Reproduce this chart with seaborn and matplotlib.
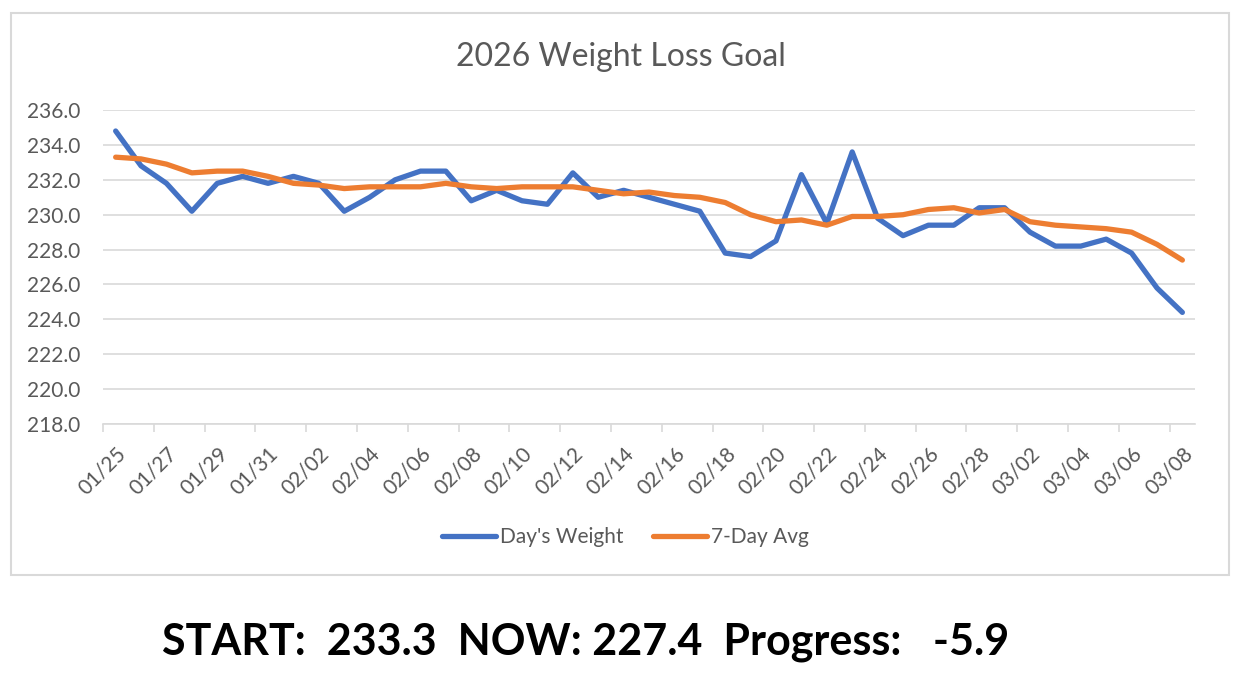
import pandas as pd
import numpy as np
import matplotlib
matplotlib.use("Agg")
import matplotlib.pyplot as plt
from matplotlib.patches import Rectangle
import seaborn as sns

# data (01/25 .. 03/08, 2026)
dates = pd.date_range("2026-01-25", "2026-03-08", freq="D")
days_weight = [234.8, 232.8, 231.8, 230.2, 231.8, 232.2, 231.8, 232.2, 231.8, 230.2,
               231.0, 232.0, 232.5, 232.5, 230.8, 231.4, 230.8, 230.6, 232.4, 231.0,
               231.4, 231.0, 230.6, 230.2, 227.8, 227.6, 228.5, 232.3, 229.5, 233.6,
               229.8, 228.8, 229.4, 229.4, 230.4, 230.4, 229.0, 228.2, 228.2, 228.6,
               227.8, 225.8, 224.4]
avg_7day = [233.3, 233.2, 232.9, 232.4, 232.5, 232.5, 232.2, 231.8, 231.7, 231.5,
            231.6, 231.6, 231.6, 231.8, 231.6, 231.5, 231.6, 231.6, 231.6, 231.4,
            231.2, 231.3, 231.1, 231.0, 230.7, 230.0, 229.6, 229.7, 229.4, 229.9,
            229.9, 230.0, 230.3, 230.4, 230.1, 230.3, 229.6, 229.4, 229.3, 229.2,
            229.0, 228.3, 227.4]
series_names = ["Day's Weight", "7-Day Avg"]
colors = ["#4472C4", "#ED7D31"]

start_val = avg_7day[0]
now_val = avg_7day[-1]
progress = round(now_val - start_val, 1)

df = pd.DataFrame({"date": dates, series_names[0]: days_weight, series_names[1]: avg_7day})
long = df.melt(id_vars="date", var_name="series", value_name="weight")

sns.set_theme(style="white")
plt.rcParams["font.family"] = ["Lato", "DejaVu Sans"]

fig = plt.figure(figsize=(12.51, 6.88), dpi=100)
ax = fig.add_axes([0.0823, 0.3837, 0.8730, 0.4563])

sns.lineplot(data=long, x="date", y="weight", hue="series", palette=colors,
             linewidth=3.8, ax=ax, legend=False, solid_capstyle="round")

grey = "#D9D9D9"
txt = "#595959"
ax.set_ylim(218, 236)
ax.set_yticks(np.arange(218, 236.1, 2))
ax.yaxis.set_major_formatter(matplotlib.ticker.FormatStrFormatter("%.1f"))
ax.grid(axis="y", color=grey, linewidth=1.2)
ax.set_axisbelow(True)
for s in ["top", "right", "left"]:
    ax.spines[s].set_visible(False)
ax.spines["bottom"].set_color(grey)
ax.spines["bottom"].set_linewidth(1.2)

half = pd.Timedelta(hours=12)
ax.set_xlim(dates[0] - half, dates[-1] + half)
ax.set_xticks(dates[::2])
ax.set_xticklabels([d.strftime("%m/%d") for d in dates[::2]], rotation=45,
                   ha="right", rotation_mode="anchor")
ax.set_xticks(dates[::2] - half, minor=True)
ax.tick_params(axis="x", which="major", length=0, pad=14, labelsize=15, labelcolor=txt)
ax.tick_params(axis="x", which="minor", length=6, width=1.2, color=grey, bottom=True)
ax.tick_params(axis="y", length=0, pad=16, labelsize=15, labelcolor=txt)
ax.set_xlabel("")
ax.set_ylabel("")

fig.text(0.496, 0.917, "2026 Weight Loss Goal", ha="center", va="center",
         fontsize=23, color=txt)

handles = [plt.Line2D([], [], color=c, linewidth=3.8, solid_capstyle="round") for c in colors]
fig.legend(handles, series_names, loc="center", bbox_to_anchor=(0.5, 0.219), ncol=2,
           frameon=False, fontsize=15, labelcolor=txt, handlelength=2.6,
           handletextpad=0.2, columnspacing=1.4)

fig.patches.append(Rectangle((0.0088, 0.1642), 0.974, 0.817, transform=fig.transFigure,
                             fill=False, edgecolor=grey, linewidth=1.5))

summary = "START:  %.1f  NOW: %.1f  Progress:   %.1f" % (start_val, now_val, progress)
fig.text(0.468, 0.067, summary, ha="center", va="center", fontsize=31,
         fontweight="bold", color="black")

fig.savefig("out.png", dpi=100)
